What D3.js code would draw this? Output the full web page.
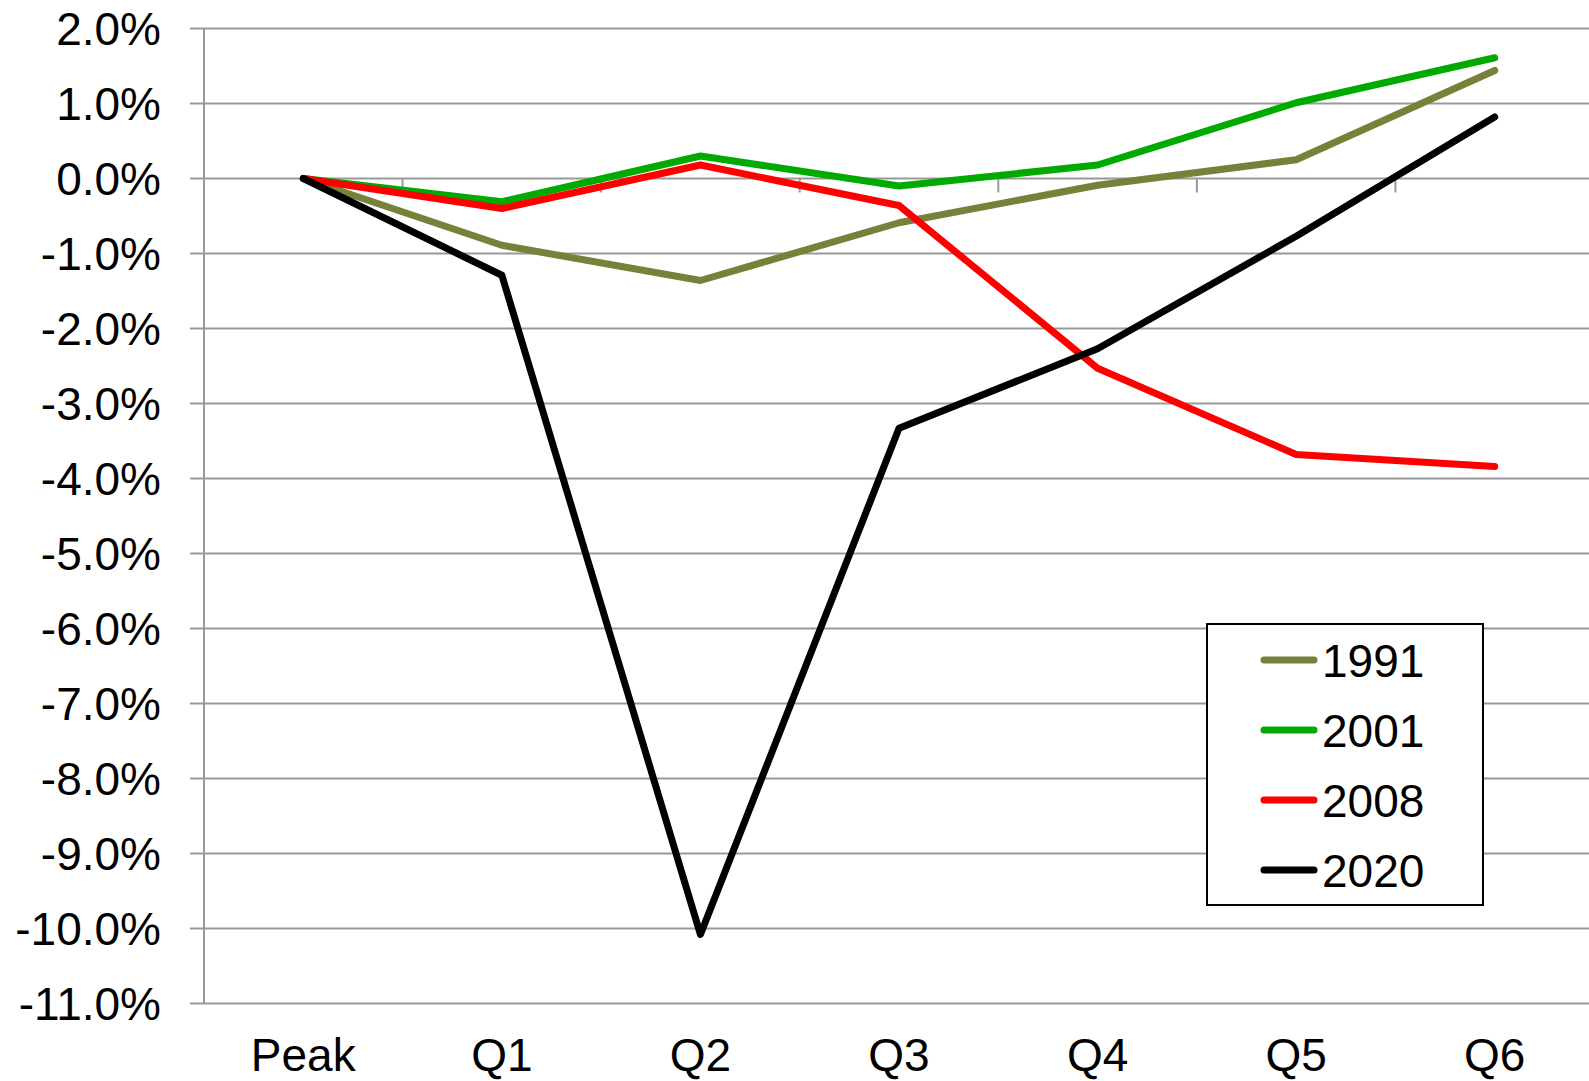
<!DOCTYPE html>
<html>
<head>
<meta charset="utf-8">
<script src="https://cdn.jsdelivr.net/npm/d3@7"></script>
<style>
  html, body { margin: 0; padding: 0; background: #fff; }
  svg { display: block; font-family: "Liberation Sans", Arial, sans-serif; }
</style>
</head>
<body>
<div id="chart"></div>
<script>
// Recession comparison: % change from peak, by quarter

const categories = ["Peak", "Q1", "Q2", "Q3", "Q4", "Q5", "Q6"];
const yTicks = [2, 1, 0, -1, -2, -3, -4, -5, -6, -7, -8, -9, -10, -11];

const seriesNames = ["1991", "2001", "2008", "2020"];
const values1991 = [0, -0.89, -1.36, -0.59, -0.09, 0.25, 1.44];
const values2001 = [0, -0.31, 0.30, -0.10, 0.18, 1.01, 1.61];
const values2008 = [0, -0.40, 0.18, -0.36, -2.53, -3.68, -3.84];
const values2020 = [0, -1.29, -10.08, -3.33, -2.27, -0.77, 0.82];
const seriesColors = ["#79803A", "#00AA00", "#FF0000", "#000000"];

const width = 1589;
const height = 1081;
const plotLeft = 204;
const plotRight = 1594;
const fontSize = "46px";

const series = seriesNames.map((name, i) => ({
    name: name,
    color: seriesColors[i],
    values: [values1991, values2001, values2008, values2020][i]
}));

const svg = d3.select("#chart")
    .append("svg")
    .attr("width", width)
    .attr("height", height);

const x = d3.scaleBand()
    .domain(categories)
    .range([plotLeft, plotRight])
    .padding(0);

const y = d3.scaleLinear()
    .domain([-11, 2])
    .range([1003.5, 28.5]);

const xc = d => x(d) + x.bandwidth() / 2;
const gridColor = "#999";
// plain hyphen, like the original, not the unicode minus d3.format gives
const pct = d => d.toFixed(1) + "%";

// horizontal gridlines (they start at the tick mark left of the axis)
svg.append("g")
    .selectAll("line")
    .data(yTicks)
    .enter().append("line")
    .attr("x1", plotLeft - 14)
    .attr("x2", plotRight)
    .attr("y1", d => y(d))
    .attr("y2", d => y(d))
    .attr("stroke", gridColor)
    .attr("stroke-width", 2);

// vertical axis line
svg.append("line")
    .attr("x1", plotLeft)
    .attr("x2", plotLeft)
    .attr("y1", y(2))
    .attr("y2", y(-11))
    .attr("stroke", gridColor)
    .attr("stroke-width", 2);

// category ticks sit on the zero line, between categories
svg.append("g")
    .selectAll("line")
    .data(categories.slice(1))
    .enter().append("line")
    .attr("x1", d => x(d))
    .attr("x2", d => x(d))
    .attr("y1", y(0))
    .attr("y2", y(0) + 14)
    .attr("stroke", gridColor)
    .attr("stroke-width", 2);

// y tick labels
svg.append("g")
    .selectAll("text")
    .data(yTicks)
    .enter().append("text")
    .attr("x", 161)
    .attr("y", d => y(d) + 16.5)
    .attr("text-anchor", "end")
    .attr("font-size", fontSize)
    .attr("fill", "#000")
    .text(pct);

// x labels at the bottom
svg.append("g")
    .selectAll("text")
    .data(categories)
    .enter().append("text")
    .attr("x", d => xc(d))
    .attr("y", 1071)
    .attr("text-anchor", "middle")
    .attr("font-size", fontSize)
    .attr("fill", "#000")
    .text(d => d);

const line = d3.line()
    .x((d, i) => xc(categories[i]))
    .y(d => y(d));

svg.append("g")
    .selectAll("path")
    .data(series)
    .enter().append("path")
    .attr("d", d => line(d.values))
    .attr("fill", "none")
    .attr("stroke", d => d.color)
    .attr("stroke-width", 7)
    .attr("stroke-linejoin", "round")
    .attr("stroke-linecap", "round");

// legend
const legend = svg.append("g");

legend.append("rect")
    .attr("x", 1207)
    .attr("y", 624)
    .attr("width", 276)
    .attr("height", 281)
    .attr("fill", "#fff")
    .attr("stroke", "#000")
    .attr("stroke-width", 2);

const rows = legend.selectAll("g.row")
    .data(series)
    .enter().append("g")
    .attr("class", "row")
    .attr("transform", (d, i) => `translate(0, ${660 + i * 70})`);

rows.append("line")
    .attr("x1", 1264)
    .attr("x2", 1314)
    .attr("stroke", d => d.color)
    .attr("stroke-width", 7)
    .attr("stroke-linecap", "round");

rows.append("text")
    .attr("x", 1322)
    .attr("y", 16.5)
    .attr("font-size", fontSize)
    .attr("fill", "#000")
    .text(d => d.name);
</script>
</body>
</html>
